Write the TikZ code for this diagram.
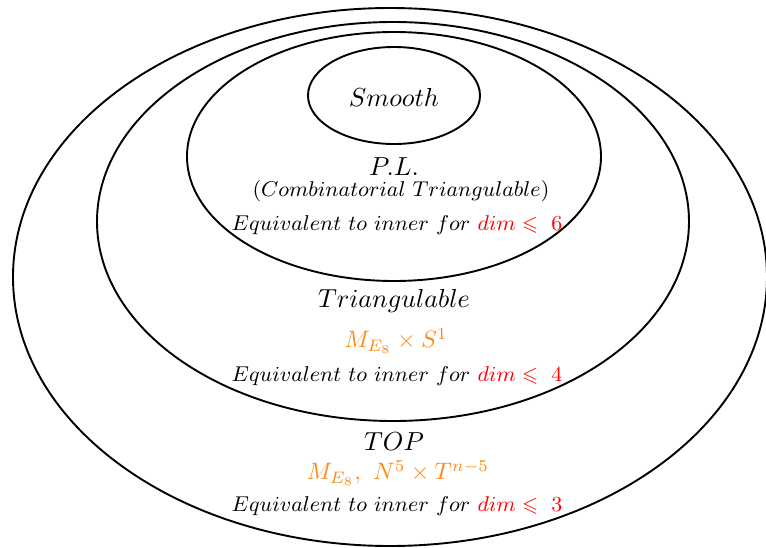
\documentclass[tikz,border=0pt]{standalone}
\usepackage{amssymb}
\usepackage{xcolor}
\definecolor{accent}{RGB}{250,140,20}
\begin{document}
\begin{tikzpicture}[x=0.42pt,y=-0.42pt,
  ring/.style={draw=black,line width=0.8pt},
  title/.style={inner sep=0pt,font=\fontsize{10.8}{13}\selectfont},
  note/.style={inner sep=0pt,font=\fontsize{8.7}{10.5}\selectfont},
  example/.style={inner sep=0pt,text=accent,font=\fontsize{10.2}{12}\selectfont}]
\useasboundingbox (0,0) rectangle (766,548);

% nested classes of manifolds
\draw[ring] (390,277) ellipse [x radius=377, y radius=269];
\draw[ring] (393,221.5) ellipse [x radius=296, y radius=199.5];
\draw[ring] (394,156.5) ellipse [x radius=207, y radius=124.5];
\draw[ring] (394,95.5) ellipse [x radius=86, y radius=48.5];

% smooth
\node[title] (smooth) at (394,97) {$Smooth$};

% piecewise linear
\node[title] (pl) at (394,167) {$P.L.$};
\node[note] (comb) at (401,191) {$(Combinatorial\ Triangulable)$};
\node[note] (eqpl) at (397,225) {$Equivalent\ to\ inner\ for\ \textcolor{red}{dim\leqslant\ 6}$};

% triangulable
\node[title] (tri) at (394,301) {$Triangulable$};
\node[example] (extri) at (396,341) {$M_{E_8}\times S^1$};
\node[note] (eqtri) at (397,376) {$Equivalent\ to\ inner\ for\ \textcolor{red}{dim\leqslant\ 4}$};

% topological
\node[title] (top) at (394,442) {$TOP$};
\node[example] (extop) at (398,473) {$M_{E_8},\ N^5\times T^{n-5}$};
\node[note] (eqtop) at (397,506) {$Equivalent\ to\ inner\ for\ \textcolor{red}{dim\leqslant\ 3}$};
\end{tikzpicture}
\end{document}
